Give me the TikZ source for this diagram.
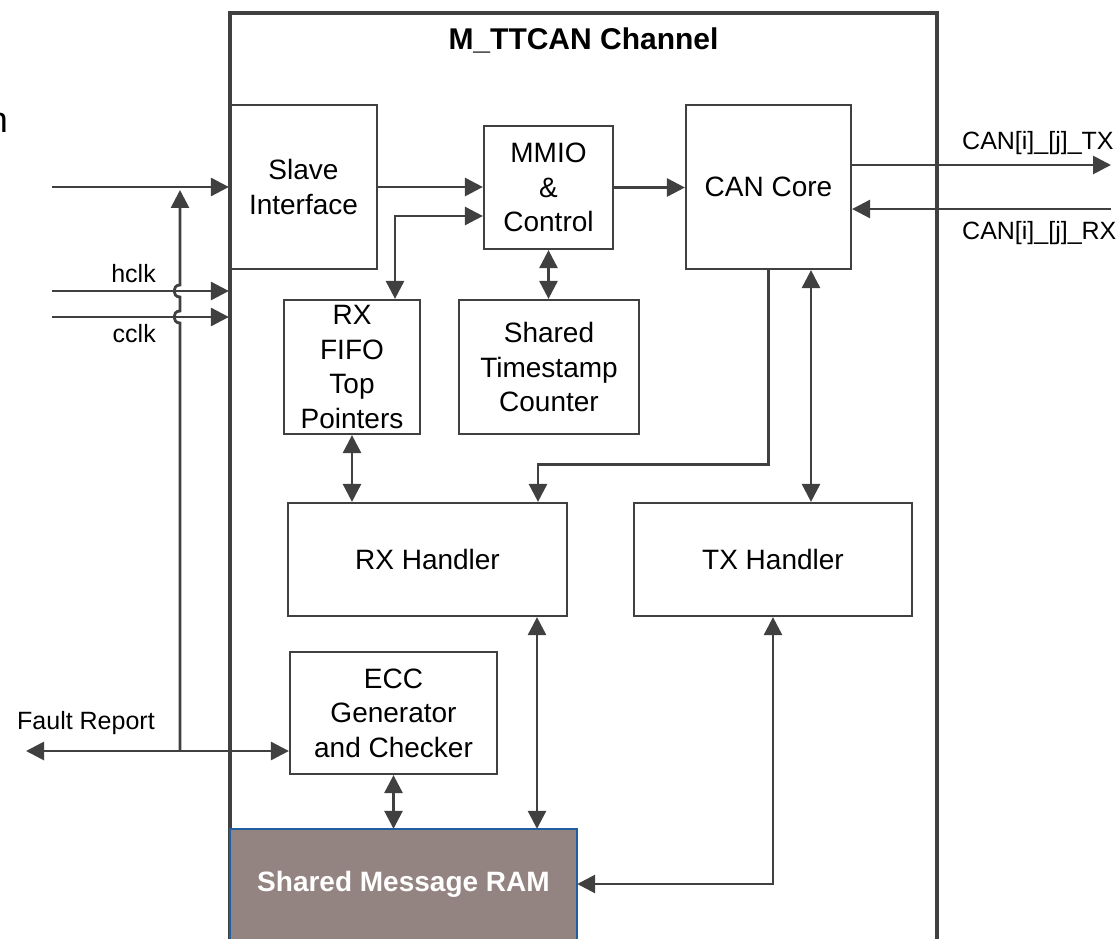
\documentclass[tikz,border=0pt]{standalone}
\usepackage{fontspec}
\setmainfont{Liberation Sans}
\usetikzlibrary{arrows.meta,calc}
\definecolor{ln}{RGB}{64,64,64}
\definecolor{ramfill}{RGB}{147,131,129}
\definecolor{ramedge}{RGB}{31,95,160}
\begin{document}
\begin{tikzpicture}[x=1pt,y=-1pt,
  >={Triangle[length=18pt,width=18pt]},
  box/.style={draw=ln, line width=2.2pt, align=center, inner sep=0pt,
    font=\fontsize{28}{34.5}\selectfont},
  conn/.style={draw=ln, line width=2.8pt},
  lbl/.style={font=\fontsize{25}{28}\selectfont, inner sep=0pt}]
\useasboundingbox (0,0) rectangle (1120,939);

% channel outline
\draw[ln, line width=3.2pt] (230,960) -- (230,13) -- (937,13) -- (937,960);
\node[font=\bfseries\fontsize{30}{34}\selectfont, inner sep=0pt] (title) at (583.5,40) {M\_TTCAN Channel};

% blocks
\node[box, minimum width=147pt, minimum height=164pt] (slave) at (303.5,187) {Slave\\Interface};
\node[box, minimum width=129pt, minimum height=123pt] (mmio) at (548.5,187.5) {MMIO\\\&\\Control};
\node[box, minimum width=165pt, minimum height=164pt] (cancore) at (768.5,187) {CAN Core};
\node[box, minimum width=136pt, minimum height=134pt] (rxfifo) at (352,367) {RX\\FIFO\\Top\\Pointers};
\node[box, minimum width=180pt, minimum height=134pt] (ts) at (549,367) {Shared\\Timestamp\\Counter};
\node[box, minimum width=279pt, minimum height=113pt] (rxh) at (427.5,559.5) {RX Handler};
\node[box, minimum width=278pt, minimum height=113pt] (txh) at (773,559.5) {TX Handler};
\node[box, minimum width=207pt, minimum height=122pt] (ecc) at (393.5,713) {ECC\\Generator\\and Checker};

% shared message RAM (runs off the bottom edge)
\node[font=\bfseries\fontsize{28}{34}\selectfont, text=white, inner sep=0pt,
  minimum width=347pt, minimum height=110pt, fill=ramfill] (ram) at (403.5,884) {Shared Message RAM};
\fill[ramfill] (ram.south west) rectangle ([yshift=-25pt]ram.south east);
\draw[ramedge, line width=1.8pt] ([yshift=-25pt]ram.south west) -- (ram.north west)
  -- (ram.north east) -- ([yshift=-25pt]ram.south east);

% outside labels
\node[font=\fontsize{36}{40}\selectfont, anchor=base east, inner sep=0pt] (nfrag) at (8,133) {n};
\node[lbl, anchor=base east] (hclkl) at (156,282) {hclk};
\node[lbl, anchor=base east] (cclkl) at (156,342) {cclk};
\node[lbl, anchor=base west] (faultl) at (17,729) {Fault Report};
\node[lbl, anchor=base west] (txl) at (962,150) {CAN[i]\_[j]\_TX};
\node[lbl, anchor=base west] (rxl) at (962,240) {CAN[i]\_[j]\_RX};

% free ends
\coordinate (inS) at (52,187);
\coordinate (hclkS) at (52,291);
\coordinate (cclkS) at (52,317);
\coordinate (frL) at (26,751);
\coordinate (busb) at (180,751);
\coordinate (bust) at (180,190);
\coordinate (hopa1) at (180,323);
\coordinate (hopa2) at (180,311);
\coordinate (hopb1) at (180,297);
\coordinate (hopb2) at (180,285);
\coordinate (txE) at (1111,165);
\coordinate (rxS) at (1111,209);

% left side inputs
\draw[conn,->] (inS) -- (inS -| slave.west);
\draw[conn,->] (hclkS) -- (hclkS -| slave.west);
\draw[conn,->] (cclkS) -- (cclkS -| slave.west);
\draw[conn,<->] (frL) -- (frL -| ecc.west);
\draw[conn,->] (busb) -- (hopa1) .. controls +(-8,0) and +(-8,0) .. (hopa2)
  -- (hopb1) .. controls +(-8,0) and +(-8,0) .. (hopb2) -- (bust);

% CAN bus
\draw[conn,->] ([yshift=22pt]cancore.east) -- (txE);
\draw[conn,->] (rxS) -- (rxS -| cancore.east);

% internal connectors
\draw[conn,->] (slave.east) -- (slave.east -| mmio.west);
\draw[conn,->] (mmio.east) -- (mmio.east -| cancore.west);
\draw[conn,<->] ([xshift=43pt]rxfifo.north) |- ([yshift=-28.5pt]mmio.west);
\draw[conn,<->] (mmio.south) -- (mmio.south |- ts.north);
\draw[conn,<->] (rxfifo.south) -- (rxfifo.south |- rxh.north);
\draw[conn,->] (cancore.south) -- ++(0,194) -| ([xshift=110.5pt]rxh.north);
\draw[conn,<->] ([xshift=42.5pt]cancore.south) -- ([xshift=38pt]txh.north);
\draw[conn,<->] ([xshift=109.5pt]rxh.south) -- ([xshift=133.5pt]ram.north);
\draw[conn,<->] (txh.south) |- (ram.east);
\draw[conn,<->] (ecc.south) -- (ecc.south |- ram.north);
\end{tikzpicture}
\end{document}
